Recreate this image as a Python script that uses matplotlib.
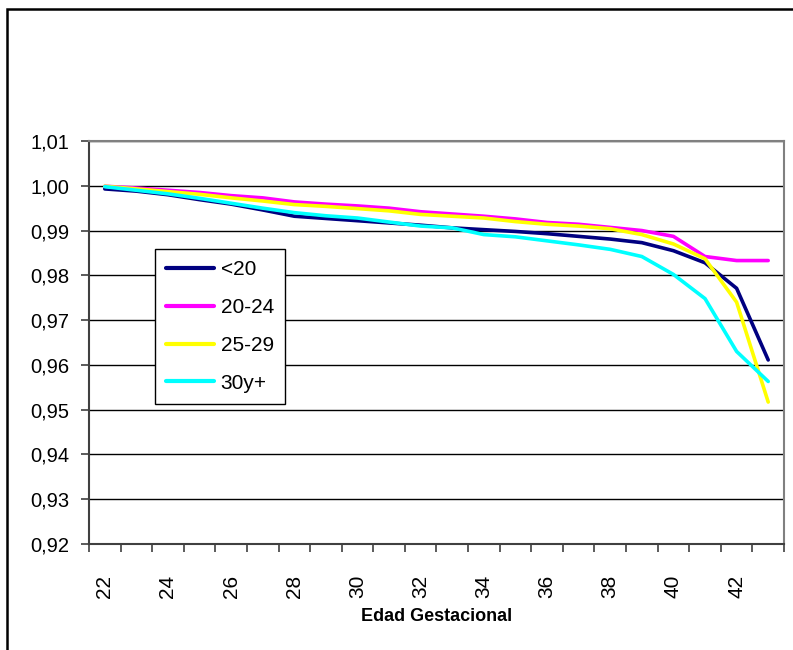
import matplotlib
matplotlib.use("Agg")
import matplotlib.pyplot as plt
from matplotlib.patches import Rectangle
from matplotlib.ticker import FixedLocator, FuncFormatter

plt.rcParams["font.family"] = ["Liberation Sans", "DejaVu Sans"]

# edad gestacional (semanas)
ages = [22, 23, 24, 25, 26, 27, 28, 29, 30, 31, 32,
        33, 34, 35, 36, 37, 38, 39, 40, 41, 42, 43]

menos_20 = [0.9993, 0.9988, 0.9980, 0.9969, 0.9959, 0.9946, 0.9932, 0.9927, 0.9922, 0.9917, 0.9912,
            0.9906, 0.9902, 0.9898, 0.9893, 0.9887, 0.9881, 0.9873, 0.9855, 0.9828, 0.9771, 0.9611]
de_20_24 = [0.9999, 0.9995, 0.9990, 0.9985, 0.9978, 0.9973, 0.9964, 0.9959, 0.9955, 0.9950, 0.9942,
            0.9937, 0.9932, 0.9926, 0.9918, 0.9914, 0.9907, 0.9900, 0.9887, 0.9842, 0.9833, 0.9833]
de_25_29 = [0.9999, 0.9993, 0.9987, 0.9981, 0.9973, 0.9966, 0.9958, 0.9954, 0.9949, 0.9944, 0.9936,
            0.9932, 0.9928, 0.9920, 0.9914, 0.9910, 0.9904, 0.9891, 0.9870, 0.9837, 0.9740, 0.9517]
de_30_mas = [0.9998, 0.9990, 0.9982, 0.9972, 0.9961, 0.9950, 0.9940, 0.9933, 0.9928, 0.9919, 0.9910,
             0.9906, 0.9891, 0.9886, 0.9877, 0.9868, 0.9858, 0.9842, 0.9802, 0.9748, 0.9630, 0.9563]

series = [
    ("<20", menos_20, "#000080"),
    ("20-24", de_20_24, "#FF00FF"),
    ("25-29", de_25_29, "#FFFF00"),
    ("30y+", de_30_mas, "#00FFFF"),
]

W, H = 793, 650
fig = plt.figure(figsize=(W / 100, H / 100), dpi=100)
ax = fig.add_axes([89 / W, 1 - 544 / H, (784 - 89) / W, (544 - 141) / H])

x = list(range(len(ages)))
for label, values, color in series:
    ax.plot(x, values, color=color, linewidth=2.6, label=label, solid_capstyle="round", zorder=3)

ax.set_xlim(-0.5, len(ages) - 0.5)
ax.set_ylim(0.92, 1.01)
yticks = [0.92 + 0.01 * i for i in range(10)]
ax.set_yticks(yticks)
ax.yaxis.set_major_formatter(FuncFormatter(lambda v, _: f"{v:.2f}".replace(".", ",")))
ax.grid(axis="y", color="black", linewidth=1.0)
ax.set_axisbelow(True)

ax.set_xticks(x[::2])
ax.set_xticklabels([str(a) for a in ages[::2]], rotation=90)
ax.xaxis.set_minor_locator(FixedLocator([i - 0.5 for i in range(len(ages) + 1)]))
ax.tick_params(axis="x", which="major", length=0, pad=22, labelsize=15)
ax.tick_params(axis="x", which="minor", length=6, width=1.2, color="#404040", direction="out")
ax.tick_params(axis="y", length=6, width=1.2, color="#404040", labelsize=14.5, pad=8)

for side in ["top", "right"]:
    ax.spines[side].set_color("#808080")
    ax.spines[side].set_linewidth(1.5)
for side in ["left", "bottom"]:
    ax.spines[side].set_color("#404040")
    ax.spines[side].set_linewidth(1.5)

ax.set_xlabel("Edad Gestacional", fontsize=13, fontweight="bold", labelpad=7)

leg = ax.legend(loc="upper left", bbox_to_anchor=(0.095, 0.732), borderaxespad=0,
                fontsize=15, handlelength=2.3, handletextpad=0.3, labelspacing=0.9,
                borderpad=0.55, fancybox=False, framealpha=1, edgecolor="black")
leg.get_frame().set_linewidth(1.0)
for line in leg.get_lines():
    line.set_linewidth(3)

# chart-area border (only top and left visible in the original)
fig.add_artist(Rectangle((7 / W, -0.1), 1.2, (H - 9) / H + 0.1, transform=fig.transFigure,
                         fill=False, edgecolor="black", linewidth=1.8))

fig.savefig("out.png", dpi=100)
